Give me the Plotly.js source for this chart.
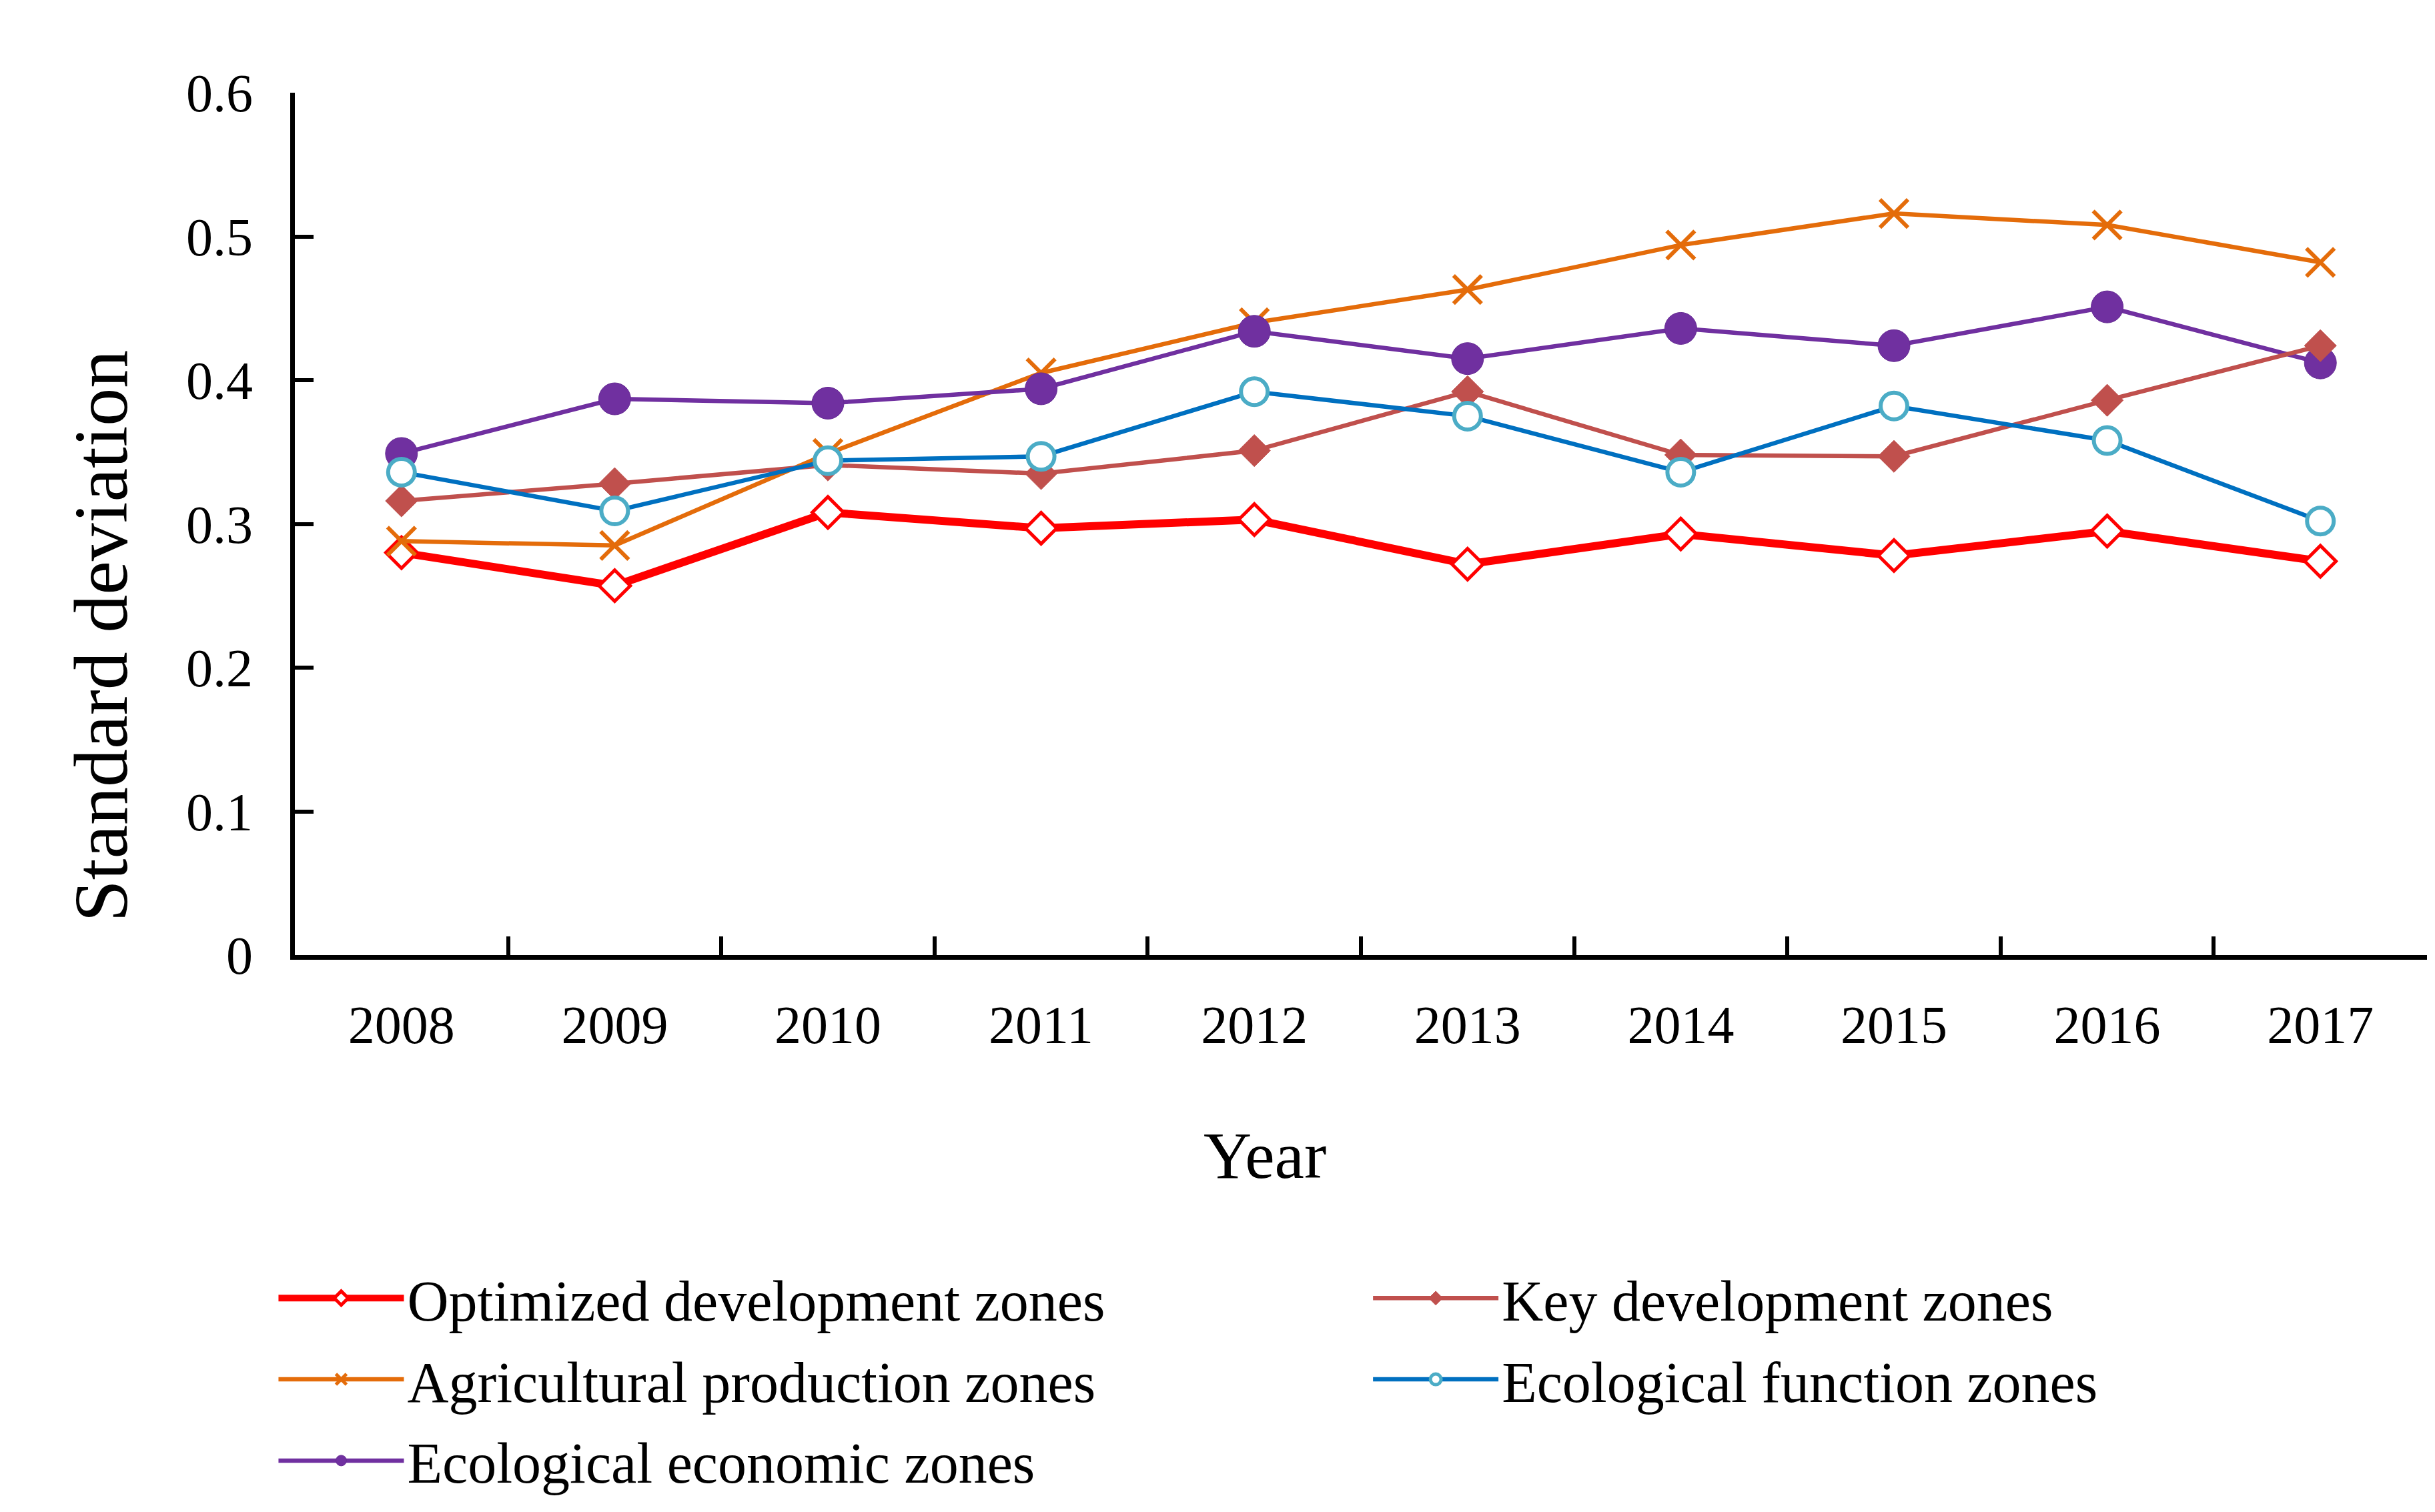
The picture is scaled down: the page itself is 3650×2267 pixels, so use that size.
<!DOCTYPE html>
<html>
<head>
<meta charset="utf-8">
<script src="https://cdn.plot.ly/plotly-3.0.1.min.js"></script>
<style>html,body{margin:0;padding:0;background:#fff;}#chart{width:3650px;height:2267px;}</style>
</head>
<body>
<div id="chart"></div>
<script>
const years = ["2008","2009","2010","2011","2012","2013","2014","2015","2016","2017"];
const optimizedZones = [0.280,0.257,0.308,0.297,0.303,0.272,0.293,0.278,0.295,0.274];
const keyZones = [0.316,0.328,0.341,0.335,0.351,0.392,0.348,0.347,0.386,0.424];
const agriculturalZones = [0.288,0.285,0.349,0.405,0.440,0.463,0.494,0.516,0.508,0.482];
const ecoFunctionZones = [0.336,0.309,0.344,0.347,0.392,0.375,0.336,0.382,0.358,0.302];
const ecoEconomicZones = [0.349,0.387,0.384,0.394,0.434,0.415,0.436,0.424,0.451,0.412];
const seriesNames = ["Optimized development zones","Key development zones","Agricultural production zones","Ecological function zones","Ecological economic zones"];
const yTickVals = [0,0.1,0.2,0.3,0.4,0.5,0.6];

const FONT = "Liberation Serif, Times New Roman, serif";

const traces = [
  {x: years, y: optimizedZones, name: seriesNames[0], type: 'scatter', mode: 'lines+markers',
   line: {color: '#FF0000', width: 12},
   marker: {symbol: 'diamond', size: 36, color: '#FFFFFF', line: {color: '#FF0000', width: 5}},
   legend: 'legend', legendgroup: 'g1'},
  {x: years, y: agriculturalZones, name: seriesNames[2], type: 'scatter', mode: 'lines+markers',
   line: {color: '#E46C0A', width: 6.5},
   marker: {symbol: 'x-thin', size: 42, color: '#E46C0A', line: {color: '#E46C0A', width: 6}},
   legend: 'legend', legendgroup: 'g3'},
  {x: years, y: ecoEconomicZones, name: seriesNames[4], type: 'scatter', mode: 'lines+markers',
   line: {color: '#7030A0', width: 6.5},
   marker: {symbol: 'circle', size: 48, color: '#7030A0', line: {color: '#662B93', width: 1}},
   legend: 'legend', legendgroup: 'g5'},
  {x: years, y: keyZones, name: seriesNames[1], type: 'scatter', mode: 'lines+markers',
   line: {color: '#C0504D', width: 6.5},
   marker: {symbol: 'diamond', size: 37, color: '#C0504D', line: {color: '#C0504D', width: 1}},
   legend: 'legend2', legendgroup: 'g2'},
  {x: years, y: ecoFunctionZones, name: seriesNames[3], type: 'scatter', mode: 'lines+markers',
   line: {color: '#0070C0', width: 6.5},
   marker: {symbol: 'circle', size: 40, color: '#FFFFFF', line: {color: '#4BACC6', width: 6}},
   legend: 'legend2', legendgroup: 'g4'}
];

const legendCommon = {
  orientation: 'v', xref: 'container', yref: 'container', xanchor: 'left', yanchor: 'top',
  font: {family: FONT, size: 86, color: '#000'}, itemwidth: 188, tracegroupgap: 7,
  bgcolor: 'rgba(0,0,0,0)', borderwidth: 0
};

const layout = {
  width: 3650, height: 2267,
  paper_bgcolor: '#FFFFFF', plot_bgcolor: '#FFFFFF',
  margin: {l: 442, r: 12, t: 139, b: 835, pad: 0, autoexpand: false},
  font: {family: FONT, color: '#000'},
  showlegend: true,
  xaxis: {
    type: 'category', range: [-0.5, 9.5], tickson: 'boundaries', ticks: 'inside', ticklen: 28, tickwidth: 6, tickcolor: '#000',
    showline: true, linecolor: '#000', linewidth: 7, showgrid: false, zeroline: false,
    tickfont: {family: FONT, size: 80, color: '#000'}, ticklabelstandoff: 29, tickangle: 0
  },
  yaxis: {
    range: [0, 0.6], tickvals: yTickVals, ticktext: yTickVals.map(v => String(v)),
    ticks: 'inside', ticklen: 28, tickwidth: 6, tickcolor: '#000',
    showline: true, linecolor: '#000', linewidth: 7, showgrid: false, zeroline: false,
    tickfont: {family: FONT, size: 80, color: '#000'}, ticklabelstandoff: 40
  },
  legend: Object.assign({}, legendCommon, {x: 0.113, y: 0.169}),
  legend2: Object.assign({}, legendCommon, {x: 0.5625, y: 0.169}),
  annotations: [
    {text: 'Standard deviation', xref: 'paper', yref: 'paper', x: 0, y: 0.37, xshift: -290,
     textangle: -90, showarrow: false, xanchor: 'center', yanchor: 'middle',
     font: {family: FONT, size: 114, color: '#000'}},
    {text: 'Year', xref: 'paper', yref: 'paper', x: 0.455, y: 0, yshift: -300,
     showarrow: false, xanchor: 'center', yanchor: 'middle',
     font: {family: FONT, size: 100, color: '#000'}}
  ]
};

Plotly.newPlot('chart', traces, layout, {displayModeBar: false, staticPlot: true});
</script>
</body>
</html>
